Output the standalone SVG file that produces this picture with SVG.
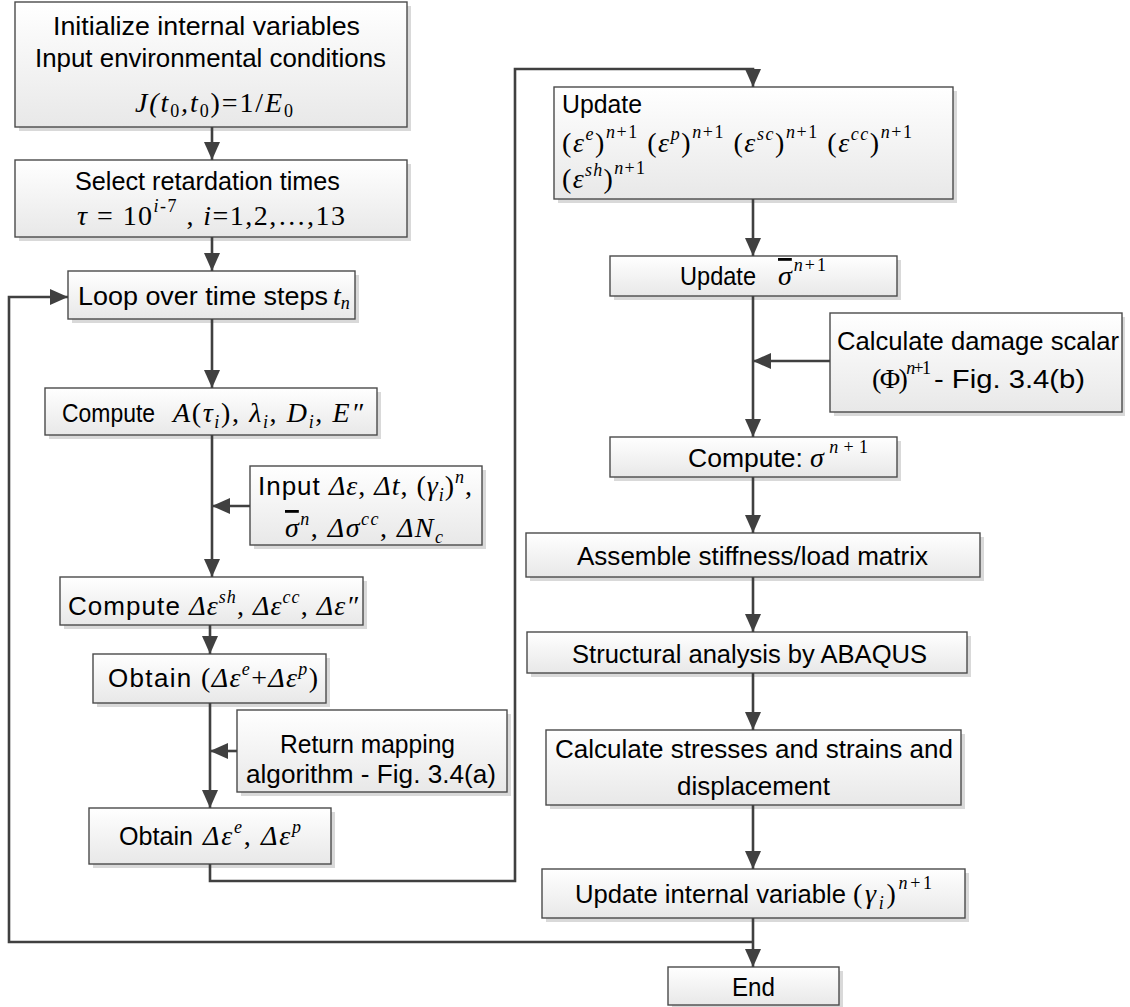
<svg xmlns="http://www.w3.org/2000/svg" width="1130" height="1007" viewBox="0 0 1130 1007">
<defs>
<linearGradient id="g" x1="0" y1="0" x2="0" y2="1"><stop offset="0" stop-color="#ffffff"/><stop offset="1" stop-color="#e8e8e8"/></linearGradient>
<marker id="ah" markerUnits="userSpaceOnUse" markerWidth="18" markerHeight="16" refX="18" refY="8" orient="auto" viewBox="0 0 18 16"><path d="M0,0 L18,8 L0,16 z" fill="#404040"/></marker>
</defs>
<style>
.box{fill:url(#g);stroke:#4a4a4a;stroke-width:1.4}
.sh{fill:#d9d9d9}
.t{font-family:'Liberation Sans',Arial,sans-serif;font-size:26px;fill:#000}
.m{font-family:'Liberation Serif','Times New Roman',serif;font-size:28px;font-style:italic;fill:#000}
.r{font-style:normal}
.s{font-size:18px}
.ov{text-decoration:overline}
.c{stroke:#404040;stroke-width:2.6;fill:none}
</style>
<rect width="1130" height="1007" fill="#fff"/>

<g id="n1"><rect class="sh" x="19" y="6" width="392" height="125"/><rect class="box" x="15" y="2" width="392" height="125"/>
<text class="t" x="53" y="35" font-size="27" textLength="307" lengthAdjust="spacingAndGlyphs">Initialize internal variables</text>
<text class="t" x="35" y="67" font-size="27" textLength="351" lengthAdjust="spacingAndGlyphs">Input environmental conditions</text>
<text class="m" x="135" y="112" font-size="29" textLength="158" lengthAdjust="spacing">J(t<tspan class="r s" dy="5">0</tspan><tspan dy="-5">,t</tspan><tspan class="r s" dy="5">0</tspan><tspan class="r" dy="-5">)=1/</tspan>E<tspan class="r s" dy="5">0</tspan></text>
</g>

<g id="n2"><rect class="sh" x="19" y="164" width="392" height="77"/><rect class="box" x="15" y="160" width="392" height="77"/>
<text class="t" x="75" y="190" font-size="27" textLength="265" lengthAdjust="spacingAndGlyphs">Select retardation times</text>
<text class="m" x="77" y="225" font-size="31" textLength="268" lengthAdjust="spacing">τ<tspan class="r"> = 10</tspan><tspan class="s" dy="-13" font-size="20">i<tspan class="r">-7</tspan></tspan><tspan class="r" dy="13"> , </tspan>i<tspan class="r">=1,2,…,13</tspan></text>
</g>

<g id="n3"><rect class="sh" x="72" y="275" width="287" height="48"/><rect class="box" x="68" y="271" width="287" height="48"/>
<text class="t" x="78" y="305" font-size="32" textLength="250" lengthAdjust="spacingAndGlyphs">Loop over time steps</text>
<text class="m" x="333" y="305" font-size="30">t<tspan class="s" dy="4" font-size="20">n</tspan></text>
</g>

<g id="n4"><rect class="sh" x="49" y="392" width="332" height="47"/><rect class="box" x="45" y="388" width="332" height="47"/>
<text class="t" x="62" y="422" textLength="93" lengthAdjust="spacingAndGlyphs">Compute</text>
<text class="m" x="173" y="422" textLength="190" lengthAdjust="spacing">A<tspan class="r">(</tspan>τ<tspan class="s" dy="6">i</tspan><tspan class="r" dy="-6">), </tspan>λ<tspan class="s" dy="6">i</tspan><tspan class="r" dy="-6">, </tspan>D<tspan class="s" dy="6">i</tspan><tspan class="r" dy="-6">, </tspan>E″</text>
</g>

<g id="n5"><rect class="sh" x="254" y="470" width="232" height="79"/><rect class="box" x="250" y="466" width="232" height="79"/>
<text class="t" x="258" y="495" textLength="214" lengthAdjust="spacing">Input <tspan class="m">Δε<tspan class="r">, </tspan>Δt<tspan class="r">, (</tspan>γ<tspan class="s" dy="6">i</tspan><tspan class="r" dy="-6">)</tspan><tspan class="s" dy="-12">n</tspan><tspan class="r" dy="12">,</tspan></tspan></text>
<text class="m" x="285" y="537" textLength="158" lengthAdjust="spacing"><tspan class="ov">σ</tspan><tspan class="s" dy="-12">n</tspan><tspan class="r" dy="12">, </tspan>Δσ<tspan class="s" dy="-12">cc</tspan><tspan class="r" dy="12">, </tspan>ΔN<tspan class="s" dy="6">c</tspan></text>
</g>

<g id="n6"><rect class="sh" x="64" y="581" width="303" height="48"/><rect class="box" x="60" y="577" width="303" height="48"/>
<text class="t" x="68" y="615" textLength="290" lengthAdjust="spacing">Compute <tspan class="m">Δε<tspan class="s" dy="-12">sh</tspan><tspan class="r" dy="12">, </tspan>Δε<tspan class="s" dy="-12">cc</tspan><tspan class="r" dy="12">, </tspan>Δε″</tspan></text>
</g>

<g id="n7"><rect class="sh" x="97" y="658" width="233" height="49"/><rect class="box" x="93" y="654" width="233" height="49"/>
<text class="t" x="108" y="687" textLength="210" lengthAdjust="spacing">Obtain <tspan class="m"><tspan class="r">(</tspan>Δε<tspan class="s" dy="-12">e</tspan><tspan class="r" dy="12">+</tspan>Δε<tspan class="s" dy="-12">p</tspan><tspan class="r" dy="12">)</tspan></tspan></text>
</g>

<g id="n8"><rect class="sh" x="241" y="714" width="270" height="82"/><rect class="box" x="237" y="710" width="270" height="82"/>
<text class="t" x="280" y="753" textLength="175" lengthAdjust="spacingAndGlyphs">Return mapping</text>
<text class="t" x="246" y="783" textLength="250" lengthAdjust="spacingAndGlyphs">algorithm - Fig. 3.4(a)</text>
</g>

<g id="n9"><rect class="sh" x="93" y="812" width="242" height="56"/><rect class="box" x="89" y="808" width="242" height="56"/>
<text class="t" x="119" y="845" textLength="74" lengthAdjust="spacingAndGlyphs">Obtain</text>
<text class="m" x="203" y="845" textLength="98" lengthAdjust="spacing">Δε<tspan class="s" dy="-12">e</tspan><tspan class="r" dy="12">, </tspan>Δε<tspan class="s" dy="-12">p</tspan></text>
</g>

<g id="n10"><rect class="sh" x="558" y="91" width="399" height="112"/><rect class="box" x="554" y="87" width="399" height="112"/>
<text class="t" x="562" y="113" textLength="80" lengthAdjust="spacingAndGlyphs">Update</text>
<text class="m" x="562" y="152" textLength="350" lengthAdjust="spacing"><tspan class="r">(</tspan>ε<tspan class="s" dy="-12">e</tspan><tspan class="r" dy="12">)</tspan><tspan class="s" dy="-14">n<tspan class="r">+1</tspan></tspan><tspan class="r" dy="14"> (</tspan>ε<tspan class="s" dy="-12">p</tspan><tspan class="r" dy="12">)</tspan><tspan class="s" dy="-14">n<tspan class="r">+1</tspan></tspan><tspan class="r" dy="14"> (</tspan>ε<tspan class="s" dy="-12">sc</tspan><tspan class="r" dy="12">)</tspan><tspan class="s" dy="-14">n<tspan class="r">+1</tspan></tspan><tspan class="r" dy="14"> (</tspan>ε<tspan class="s" dy="-12">cc</tspan><tspan class="r" dy="12">)</tspan><tspan class="s" dy="-14">n<tspan class="r">+1</tspan></tspan></text>
<text class="m" x="562" y="188" textLength="83" lengthAdjust="spacing"><tspan class="r">(</tspan>ε<tspan class="s" dy="-12">sh</tspan><tspan class="r" dy="12">)</tspan><tspan class="s" dy="-14">n<tspan class="r">+1</tspan></tspan></text>
</g>

<g id="n11"><rect class="sh" x="614" y="260" width="287" height="40"/><rect class="box" x="610" y="256" width="287" height="40"/>
<text class="t" x="680" y="285" textLength="76" lengthAdjust="spacingAndGlyphs">Update</text>
<text class="m" x="778" y="285" textLength="48" lengthAdjust="spacing"><tspan class="ov">σ</tspan><tspan class="s" dy="-14">n<tspan class="r">+1</tspan></tspan></text>
</g>

<g id="n12"><rect class="sh" x="834" y="317" width="291" height="99"/><rect class="box" x="830" y="313" width="292" height="99"/>
<text class="t" x="837" y="350" textLength="282" lengthAdjust="spacingAndGlyphs">Calculate damage scalar</text>
<text class="m" x="872" y="388" textLength="59" lengthAdjust="spacing"><tspan class="r">(Φ)</tspan><tspan class="s" dy="-14">n<tspan class="r">+1</tspan></tspan></text>
<text class="t" x="934" y="388" textLength="151" lengthAdjust="spacingAndGlyphs">- Fig. 3.4(b)</text>
</g>

<g id="n13"><rect class="sh" x="614" y="441" width="287" height="40"/><rect class="box" x="610" y="437" width="287" height="40"/>
<text class="t" x="688" y="467" textLength="115" lengthAdjust="spacingAndGlyphs">Compute:</text>
<text class="m" x="810" y="467" textLength="58" lengthAdjust="spacing">σ<tspan class="s" dy="-14">n<tspan class="r">+1</tspan></tspan></text>
</g>

<g id="n14"><rect class="sh" x="530" y="537" width="454" height="44"/><rect class="box" x="526" y="533" width="454" height="44"/>
<text class="t" x="577" y="565" textLength="351" lengthAdjust="spacingAndGlyphs">Assemble stiffness/load matrix</text>
</g>

<g id="n15"><rect class="sh" x="531" y="636" width="440" height="41"/><rect class="box" x="527" y="632" width="440" height="41"/>
<text class="t" x="572" y="663" textLength="355" lengthAdjust="spacingAndGlyphs">Structural analysis by ABAQUS</text>
</g>

<g id="n16"><rect class="sh" x="550" y="734" width="415" height="75"/><rect class="box" x="546" y="730" width="415" height="75"/>
<text class="t" x="555" y="758" textLength="398" lengthAdjust="spacingAndGlyphs">Calculate stresses and strains and</text>
<text class="t" x="677" y="795" textLength="153" lengthAdjust="spacingAndGlyphs">displacement</text>
</g>

<g id="n17"><rect class="sh" x="546" y="873" width="423" height="49"/><rect class="box" x="542" y="869" width="423" height="49"/>
<text class="t" x="575" y="903" textLength="271" lengthAdjust="spacingAndGlyphs">Update internal variable</text>
<text class="m" x="853" y="903" textLength="79" lengthAdjust="spacing"><tspan class="r">(</tspan>γ<tspan class="s" dy="6">i</tspan><tspan class="r" dy="-6">)</tspan><tspan class="s" dy="-14">n<tspan class="r">+1</tspan></tspan></text>
</g>

<g id="n18"><rect class="sh" x="672" y="971" width="171" height="36"/><rect class="box" x="668" y="967" width="171" height="38"/>
<text class="t" x="732" y="996" textLength="43" lengthAdjust="spacingAndGlyphs">End</text>
</g>

<g id="connectors">
<path class="c" marker-end="url(#ah)" d="M212,127 V160"/>
<path class="c" marker-end="url(#ah)" d="M212,237 V271"/>
<path class="c" marker-end="url(#ah)" d="M212,319 V388"/>
<path class="c" marker-end="url(#ah)" d="M212,435 V577"/>
<path class="c" marker-end="url(#ah)" d="M250,506 H212"/>
<path class="c" marker-end="url(#ah)" d="M210,625 V654"/>
<path class="c" marker-end="url(#ah)" d="M210,703 V808"/>
<path class="c" marker-end="url(#ah)" d="M237,751 H210"/>
<path class="c" marker-end="url(#ah)" d="M210,864 V881 H515 V69 H753 V87"/>
<path class="c" marker-end="url(#ah)" d="M753,199 V256"/>
<path class="c" marker-end="url(#ah)" d="M753,296 V437"/>
<path class="c" marker-end="url(#ah)" d="M830,361 H753"/>
<path class="c" marker-end="url(#ah)" d="M753,477 V533"/>
<path class="c" marker-end="url(#ah)" d="M753,577 V632"/>
<path class="c" marker-end="url(#ah)" d="M753,673 V730"/>
<path class="c" marker-end="url(#ah)" d="M753,805 V869"/>
<path class="c" marker-end="url(#ah)" d="M753,918 V967"/>
<path class="c" marker-end="url(#ah)" d="M753,942 H9 V297 H68"/>
</g>
</svg>
